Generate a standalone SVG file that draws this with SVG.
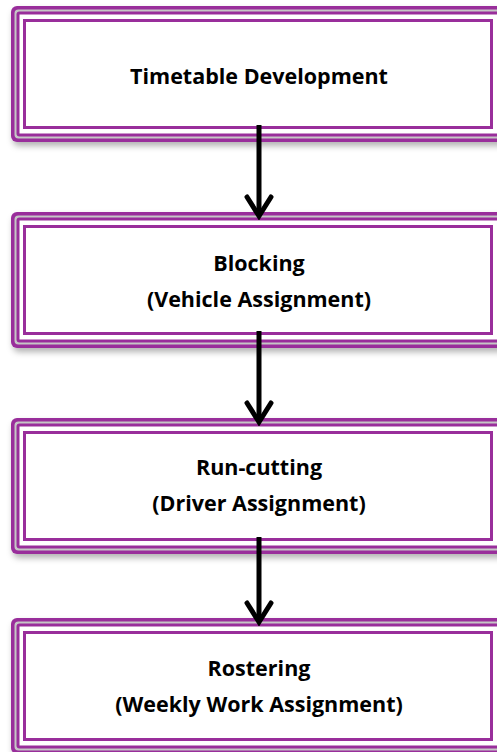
<svg xmlns="http://www.w3.org/2000/svg" width="497" height="752" viewBox="0 0 497 752">
  <defs>
    <filter id="shadow" x="-10%" y="-10%" width="120%" height="130%">
      <feDropShadow dx="2" dy="4" stdDeviation="3" flood-color="#000" flood-opacity="0.3"/>
    </filter>
    <!-- triple-banded frame, drawn once and placed per node -->
    <g id="frame">
      <rect x="11" y="0" width="495" height="136" rx="6" fill="#992e9b" filter="url(#shadow)"/>
      <rect x="14.5" y="3.5" width="488" height="129" rx="4" fill="#c6c6c6"/>
      <rect x="16.5" y="5.5" width="484" height="125" rx="3" fill="#992e9b"/>
      <rect x="19.5" y="8.5" width="478" height="119" fill="#ffffff"/>
      <rect x="24.5" y="14.5" width="467" height="107" fill="none" stroke="#992e9b" stroke-width="3"/>
    </g>
    <marker id="head" viewBox="0 0 26 30" refX="22" refY="15" markerWidth="26" markerHeight="30" markerUnits="userSpaceOnUse" orient="auto">
      <path d="M3,3 L22,15 L3,27" fill="none" stroke="#000" stroke-width="5" stroke-linecap="round" stroke-linejoin="miter"/>
    </marker>
  </defs>
  <style>
    .label { font-family: "Open Sans", "Liberation Sans", sans-serif; font-weight: 700; font-size: 21.5px; fill: #000; text-anchor: middle; }
    .conn { stroke: #000; stroke-width: 5; fill: none; }
  </style>

  <g id="node-timetable">
    <use href="#frame" y="6"/>
    <text class="label" x="259" y="84">Timetable Development</text>
  </g>

  <g id="node-blocking">
    <use href="#frame" y="212"/>
    <text class="label" x="259" y="271">Blocking</text>
    <text class="label" x="259" y="307">(Vehicle Assignment)</text>
  </g>

  <g id="node-runcutting">
    <use href="#frame" y="418"/>
    <text class="label" x="259" y="475">Run-cutting</text>
    <text class="label" x="259" y="511">(Driver Assignment)</text>
  </g>

  <g id="node-rostering">
    <use href="#frame" y="618"/>
    <text class="label" x="259" y="676">Rostering</text>
    <text class="label" x="259" y="712">(Weekly Work Assignment)</text>
  </g>

  <g id="connectors">
    <line class="conn" x1="259" y1="125" x2="259" y2="216" marker-end="url(#head)"/>
    <line class="conn" x1="259" y1="331" x2="259" y2="422" marker-end="url(#head)"/>
    <line class="conn" x1="259" y1="537" x2="259" y2="622" marker-end="url(#head)"/>
  </g>
</svg>
